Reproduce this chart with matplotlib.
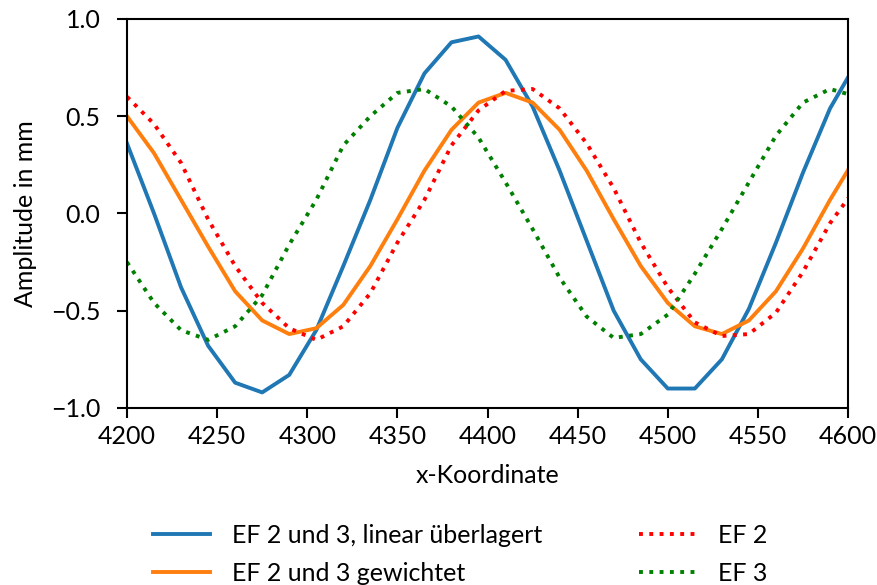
import matplotlib.pyplot as plt
import numpy as np

# knot coordinates (spacing 15), last point lies just outside the axis
x_knots = [4200, 4215, 4230, 4245, 4260, 4275, 4290, 4305, 4320, 4335,
           4350, 4365, 4380, 4395, 4410, 4425, 4440, 4455, 4470, 4485,
           4500, 4515, 4530, 4545, 4560, 4575, 4590, 4605]

ef23_linear = [0.36, 0.00, -0.38, -0.68, -0.87, -0.92, -0.83, -0.60, -0.27, 0.07,
               0.44, 0.72, 0.88, 0.91, 0.79, 0.55, 0.22, -0.14, -0.50, -0.75,
               -0.90, -0.90, -0.75, -0.49, -0.15, 0.21, 0.54, 0.78]

ef23_weighted = [0.50, 0.31, 0.07, -0.17, -0.40, -0.55, -0.62, -0.59, -0.47, -0.27,
                 -0.03, 0.22, 0.43, 0.57, 0.62, 0.57, 0.43, 0.22, -0.03, -0.27,
                 -0.46, -0.58, -0.62, -0.55, -0.40, -0.18, 0.07, 0.30]

ef2 = [0.60, 0.46, 0.26, -0.03, -0.27, -0.46, -0.59, -0.65, -0.58, -0.41,
       -0.15, 0.07, 0.35, 0.53, 0.63, 0.64, 0.54, 0.36, 0.13, -0.15,
       -0.38, -0.56, -0.63, -0.62, -0.51, -0.30, -0.05, 0.14]

ef3 = [-0.25, -0.46, -0.60, -0.65, -0.58, -0.42, -0.16, 0.07, 0.35, 0.50,
       0.62, 0.64, 0.55, 0.39, 0.16, -0.08, -0.33, -0.53, -0.64, -0.62,
       -0.52, -0.31, -0.08, 0.16, 0.40, 0.57, 0.64, 0.60]

labels = ['EF 2 und 3, linear überlagert', 'EF 2 und 3 gewichtet', 'EF 2', 'EF 3']

plt.rcParams['font.family'] = ['Lato', 'DejaVu Sans']
plt.rcParams['font.size'] = 18

fig = plt.figure(figsize=(8.77, 5.85), dpi=100)
ax = fig.add_axes([0.1448, 0.3026, 0.8222, 0.665])

lw = 2.8
ax.plot(x_knots, ef23_linear, color='#1f77b4', lw=lw, label=labels[0])
ax.plot(x_knots, ef23_weighted, color='#ff7f0e', lw=lw, label=labels[1])
ax.plot(x_knots, ef2, ':', color='red', lw=lw, label=labels[2])
ax.plot(x_knots, ef3, ':', color='green', lw=lw, label=labels[3])

ax.set_xlim(4200, 4600)
ax.set_ylim(-1.0, 1.0)
ax.set_xticks(np.arange(4200, 4601, 50))
ax.set_yticks([-1.0, -0.5, 0.0, 0.5, 1.0])
ax.set_xlabel('x-Koordinate', labelpad=12)
ax.set_ylabel('Amplitude in mm', labelpad=10)
for s in ax.spines.values():
    s.set_linewidth(1.5)
ax.tick_params(width=1.5, length=7, pad=5)
ax.tick_params(axis='y', pad=12)

ax.legend(loc='upper center', bbox_to_anchor=(0.462, -0.24), ncol=2,
          frameon=False, handlelength=2.3, columnspacing=3.9,
          handletextpad=0.85, labelspacing=0.6)

fig.savefig('out.png', dpi=100)
